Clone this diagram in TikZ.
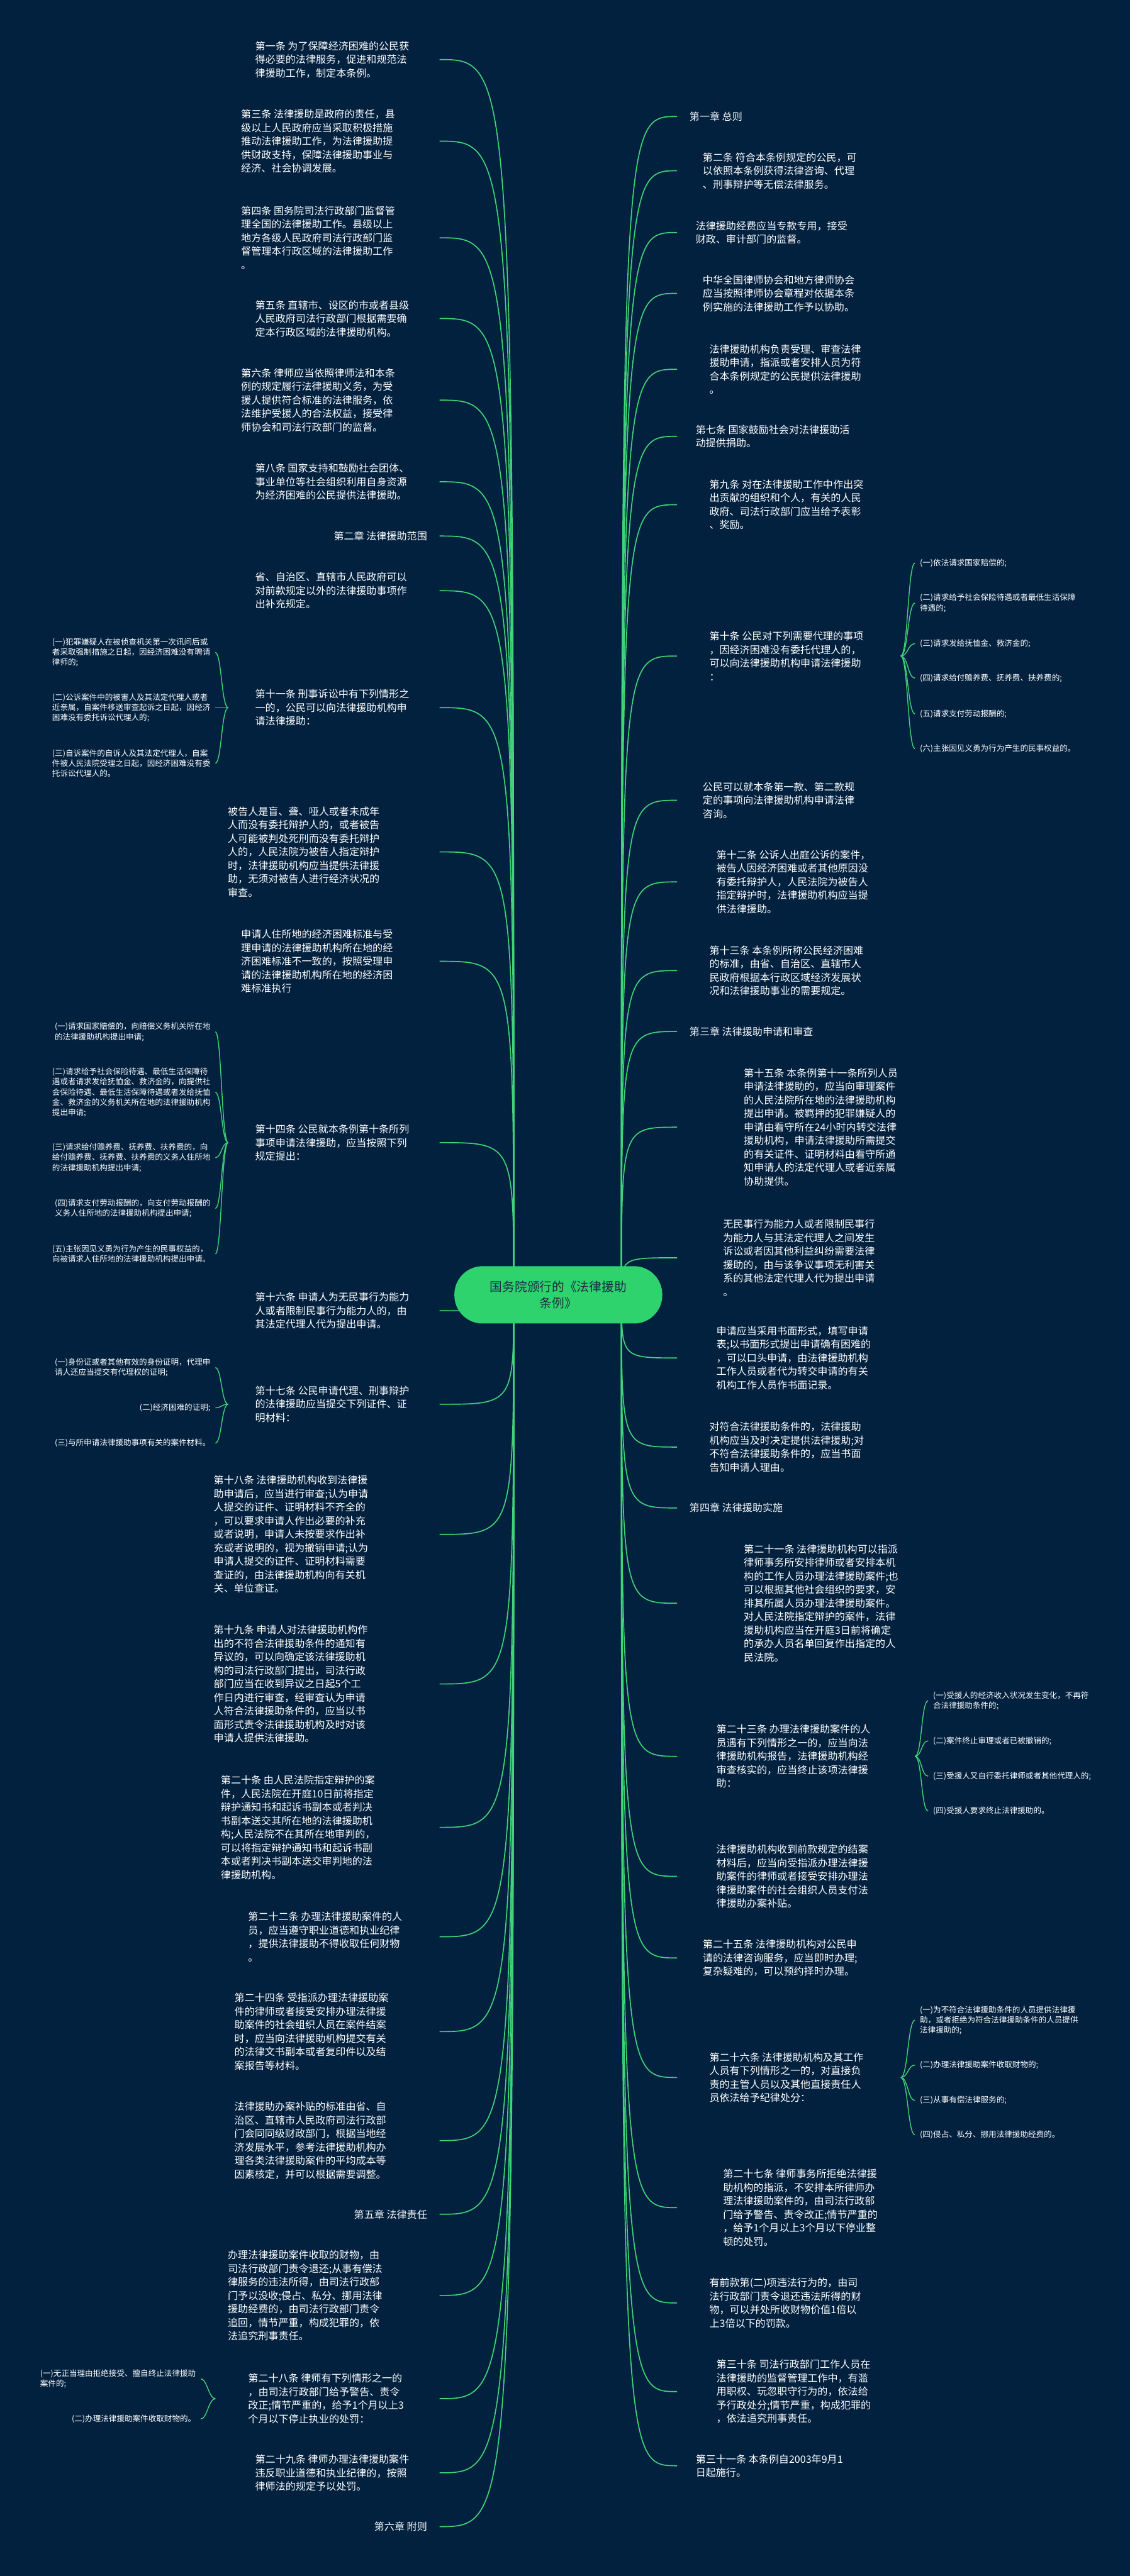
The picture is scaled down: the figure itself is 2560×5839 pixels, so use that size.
\documentclass[tikz,border=0pt]{standalone}
\usepackage{fontspec}
\setmainfont{Noto Sans CJK SC}
\definecolor{bgnavy}{RGB}{2,33,63}
\definecolor{linkgreen}{RGB}{64,211,121}
\definecolor{rootgreen}{RGB}{46,211,110}
\definecolor{roottext}{RGB}{28,44,68}
\tikzset{
  link/.style={draw=linkgreen,line width=0.6mm},
  twig/.style={draw=linkgreen,line width=0.5mm},
  txt/.style={text=white,align=left,inner sep=0pt,font=\fontsize{16.3}{21.8}\selectfont},
  item/.style={text=white,align=left,inner sep=0pt,font=\fontsize{12.75}{16.4}\selectfont},
  rootbox/.style={fill=rootgreen,text=roottext,align=center,rounded corners=16mm,
    minimum width=117.75mm,minimum height=32.5mm,font=\fontsize{20}{27}\selectfont}
}

\begin{document}
\begin{tikzpicture}[x=0.25mm,y=-0.25mm]
            \fill[bgnavy,use as bounding box] (0,0) rectangle (2560,5839);
            \coordinate (oL) at (1164,2935);
            \coordinate (oR) at (1408,2935);
            \coordinate (xL) at (996,0);
            \coordinate (xR) at (1534,0);
            % left side
            \node[txt,anchor=west] (l1) at (578,135) {第一条 为了保障经济困难的公民获\\得必要的法律服务，促进和规范法\\律援助工作，制定本条例。};
            \node[txt,anchor=west] (l3) at (546,320) {第三条 法律援助是政府的责任，县\\级以上人民政府应当采取积极措施\\推动法律援助工作，为法律援助提\\供财政支持，保障法律援助事业与\\经济、社会协调发展。};
            \node[txt,anchor=west] (l4) at (546,539) {第四条 国务院司法行政部门监督管\\理全国的法律援助工作。县级以上\\地方各级人民政府司法行政部门监\\督管理本行政区域的法律援助工作\\。};
            \node[txt,anchor=west] (l5) at (578,722) {第五条 直辖市、设区的市或者县级\\人民政府司法行政部门根据需要确\\定本行政区域的法律援助机构。};
            \node[txt,anchor=west] (l6) at (546,907) {第六条 律师应当依照律师法和本条\\例的规定履行法律援助义务，为受\\援人提供符合标准的法律服务，依\\法维护受援人的合法权益，接受律\\师协会和司法行政部门的监督。};
            \node[txt,anchor=west] (l8) at (578,1092) {第八条 国家支持和鼓励社会团体、\\事业单位等社会组织利用自身资源\\为经济困难的公民提供法律援助。};
            \node[txt,anchor=east] (l2c) at (968,1215) {第二章 法律援助范围};
            \node[txt,anchor=west] (lprov) at (578,1339) {省、自治区、直辖市人民政府可以\\对前款规定以外的法律援助事项作\\出补充规定。};
            \node[txt,anchor=west] (l11) at (578,1604) {第十一条 刑事诉讼中有下列情形之\\一的，公民可以向法律援助机构申\\请法律援助：};
            \node[txt,anchor=west] (ldef) at (516,1931) {被告人是盲、聋、哑人或者未成年\\人而没有委托辩护人的，或者被告\\人可能被判处死刑而没有委托辩护\\人的，人民法院为被告人指定辩护\\时，法律援助机构应当提供法律援\\助，无须对被告人进行经济状况的\\审查。};
            \node[txt,anchor=west] (lstd) at (546,2179) {申请人住所地的经济困难标准与受\\理申请的法律援助机构所在地的经\\济困难标准不一致的，按照受理申\\请的法律援助机构所在地的经济困\\难标准执行};
            \node[txt,anchor=west] (l14) at (578,2590) {第十四条 公民就本条例第十条所列\\事项申请法律援助，应当按照下列\\规定提出：};
            \node[txt,anchor=west] (l16) at (578,2971) {第十六条 申请人为无民事行为能力\\人或者限制民事行为能力人的，由\\其法定代理人代为提出申请。};
            \node[txt,anchor=west] (l17) at (578,3183) {第十七条 公民申请代理、刑事辩护\\的法律援助应当提交下列证件、证\\明材料：};
            \node[txt,anchor=west] (l18) at (484,3478) {第十八条 法律援助机构收到法律援\\助申请后，应当进行审查;认为申请\\人提交的证件、证明材料不齐全的\\，可以要求申请人作出必要的补充\\或者说明，申请人未按要求作出补\\充或者说明的，视为撤销申请;认为\\申请人提交的证件、证明材料需要\\查证的，由法律援助机构向有关机\\关、单位查证。};
            \node[txt,anchor=west] (l19) at (484,3817) {第十九条 申请人对法律援助机构作\\出的不符合法律援助条件的通知有\\异议的，可以向确定该法律援助机\\构的司法行政部门提出，司法行政\\部门应当在收到异议之日起5个工\\作日内进行审查，经审查认为申请\\人符合法律援助条件的，应当以书\\面形式责令法律援助机构及时对该\\申请人提供法律援助。};
            \node[txt,anchor=west] (l20) at (500,4142) {第二十条 由人民法院指定辩护的案\\件，人民法院在开庭10日前将指定\\辩护通知书和起诉书副本或者判决\\书副本送交其所在地的法律援助机\\构;人民法院不在其所在地审判的，\\可以将指定辩护通知书和起诉书副\\本或者判决书副本送交审判地的法\\律援助机构。};
            \node[txt,anchor=west] (l22) at (562,4390) {第二十二条 办理法律援助案件的人\\员，应当遵守职业道德和执业纪律\\，提供法律援助不得收取任何财物\\。};
            \node[txt,anchor=west] (l24) at (531,4605) {第二十四条 受指派办理法律援助案\\件的律师或者接受安排办理法律援\\助案件的社会组织人员在案件结案\\时，应当向法律援助机构提交有关\\的法律文书副本或者复印件以及结\\案报告等材料。};
            \node[txt,anchor=west] (lsub) at (531,4852) {法律援助办案补贴的标准由省、自\\治区、直辖市人民政府司法行政部\\门会同同级财政部门，根据当地经\\济发展水平，参考法律援助机构办\\理各类法律援助案件的平均成本等\\因素核定，并可以根据需要调整。};
            \node[txt,anchor=east] (l5c) at (968,5019) {第五章 法律责任};
            \node[txt,anchor=west] (lret) at (516,5203) {办理法律援助案件收取的财物，由\\司法行政部门责令退还;从事有偿法\\律服务的违法所得，由司法行政部\\门予以没收;侵占、私分、挪用法律\\援助经费的，由司法行政部门责令\\追回，情节严重，构成犯罪的，依\\法追究刑事责任。};
            \node[txt,anchor=west] (l28) at (562,5437) {第二十八条 律师有下列情形之一的\\，由司法行政部门给予警告、责令\\改正;情节严重的，给予1个月以上3\\个月以下停止执业的处罚：};
            \node[txt,anchor=west] (l29) at (578,5605) {第二十九条 律师办理法律援助案件\\违反职业道德和执业纪律的，按照\\律师法的规定予以处罚。};
            \node[txt,anchor=east] (l6c) at (968,5727) {第六章 附则};
            % left items
            \node[item,anchor=east] (s11a) at (477,1479) {(一)犯罪嫌疑人在被侦查机关第一次讯问后或\\者采取强制措施之日起，因经济困难没有聘请\\律师的;};
            \node[item,anchor=east] (s11b) at (477,1604) {(二)公诉案件中的被害人及其法定代理人或者\\近亲属，自案件移送审查起诉之日起，因经济\\困难没有委托诉讼代理人的;};
            \node[item,anchor=east] (s11c) at (477,1730) {(三)自诉案件的自诉人及其法定代理人，自案\\件被人民法院受理之日起，因经济困难没有委\\托诉讼代理人的。};
            \node[item,anchor=east] (s14a) at (477,2339) {(一)请求国家赔偿的，向赔偿义务机关所在地\\的法律援助机构提出申请;};
            \node[item,anchor=east] (s14b) at (477,2476) {(二)请求给予社会保险待遇、最低生活保障待\\遇或者请求发给抚恤金、救济金的，向提供社\\会保险待遇、最低生活保障待遇或者发给抚恤\\金、救济金的义务机关所在地的法律援助机构\\提出申请;};
            \node[item,anchor=east] (s14c) at (477,2624) {(三)请求给付赡养费、抚养费、扶养费的，向\\给付赡养费、抚养费、扶养费的义务人住所地\\的法律援助机构提出申请;};
            \node[item,anchor=east] (s14d) at (477,2739) {(四)请求支付劳动报酬的，向支付劳动报酬的\\义务人住所地的法律援助机构提出申请;};
            \node[item,anchor=east] (s14e) at (477,2842) {(五)主张因见义勇为行为产生的民事权益的，\\向被请求人住所地的法律援助机构提出申请。};
            \node[item,anchor=east] (s17a) at (477,3100) {(一)身份证或者其他有效的身份证明，代理申\\请人还应当提交有代理权的证明;};
            \node[item,anchor=east] (s17b) at (477,3191) {(二)经济困难的证明;};
            \node[item,anchor=east] (s17c) at (477,3271) {(三)与所申请法律援助事项有关的案件材料。};
            \node[item,anchor=east] (s28a) at (444,5392) {(一)无正当理由拒绝接受、擅自终止法律援助\\案件的;};
            \node[item,anchor=east] (s28b) at (444,5483) {(二)办理法律援助案件收取财物的。};
            % right side
            \node[txt,anchor=west] (r1c) at (1562,264) {第一章 总则};
            \node[txt,anchor=west] (r2) at (1592,387) {第二条 符合本条例规定的公民，可\\以依照本条例获得法律咨询、代理\\、刑事辩护等无偿法律服务。};
            \node[txt,anchor=west] (rfund) at (1576,527) {法律援助经费应当专款专用，接受\\财政、审计部门的监督。};
            \node[txt,anchor=west] (rbar) at (1592,665) {中华全国律师协会和地方律师协会\\应当按照律师协会章程对依据本条\\例实施的法律援助工作予以协助。};
            \node[txt,anchor=west] (rorg) at (1607,837) {法律援助机构负责受理、审查法律\\援助申请，指派或者安排人员为符\\合本条例规定的公民提供法律援助\\。};
            \node[txt,anchor=west] (r7) at (1576,989) {第七条 国家鼓励社会对法律援助活\\动提供捐助。};
            \node[txt,anchor=west] (r9) at (1607,1144) {第九条 对在法律援助工作中作出突\\出贡献的组织和个人，有关的人民\\政府、司法行政部门应当给予表彰\\、奖励。};
            \node[txt,anchor=west] (r10) at (1607,1487) {第十条 公民对下列需要代理的事项\\，因经济困难没有委托代理人的，\\可以向法律援助机构申请法律援助\\：};
            \node[txt,anchor=west] (rcon) at (1592,1814) {公民可以就本条第一款、第二款规\\定的事项向法律援助机构申请法律\\咨询。};
            \node[txt,anchor=west] (r12) at (1623,1999) {第十二条 公诉人出庭公诉的案件，\\被告人因经济困难或者其他原因没\\有委托辩护人，人民法院为被告人\\指定辩护时，法律援助机构应当提\\供法律援助。};
            \node[txt,anchor=west] (r13) at (1607,2200) {第十三条 本条例所称公民经济困难\\的标准，由省、自治区、直辖市人\\民政府根据本行政区域经济发展状\\况和法律援助事业的需要规定。};
            \node[txt,anchor=west] (r3c) at (1562,2338) {第三章 法律援助申请和审查};
            \node[txt,anchor=west] (r15) at (1685,2555) {第十五条 本条例第十一条所列人员\\申请法律援助的，应当向审理案件\\的人民法院所在地的法律援助机构\\提出申请。被羁押的犯罪嫌疑人的\\申请由看守所在24小时内转交法律\\援助机构，申请法律援助所需提交\\的有关证件、证明材料由看守所通\\知申请人的法定代理人或者近亲属\\协助提供。};
            \node[txt,anchor=west] (rinc) at (1638,2851) {无民事行为能力人或者限制民事行\\为能力人与其法定代理人之间发生\\诉讼或者因其他利益纠纷需要法律\\援助的，由与该争议事项无利害关\\系的其他法定代理人代为提出申请\\。};
            \node[txt,anchor=west] (rform) at (1623,3078) {申请应当采用书面形式，填写申请\\表;以书面形式提出申请确有困难的\\，可以口头申请，由法律援助机构\\工作人员或者代为转交申请的有关\\机构工作人员作书面记录。};
            \node[txt,anchor=west] (rdec) at (1607,3280) {对符合法律援助条件的，法律援助\\机构应当及时决定提供法律援助;对\\不符合法律援助条件的，应当书面\\告知申请人理由。};
            \node[txt,anchor=west] (r4c) at (1562,3418) {第四章 法律援助实施};
            \node[txt,anchor=west] (r21) at (1685,3634) {第二十一条 法律援助机构可以指派\\律师事务所安排律师或者安排本机\\构的工作人员办理法律援助案件;也\\可以根据其他社会组织的要求，安\\排其所属人员办理法律援助案件。\\对人民法院指定辩护的案件，法律\\援助机构应当在开庭3日前将确定\\的承办人员名单回复作出指定的人\\民法院。};
            \node[txt,anchor=west] (r23) at (1623,3981) {第二十三条 办理法律援助案件的人\\员遇有下列情形之一的，应当向法\\律援助机构报告，法律援助机构经\\审查核实的，应当终止该项法律援\\助：};
            \node[txt,anchor=west] (rpay) at (1623,4253) {法律援助机构收到前款规定的结案\\材料后，应当向受指派办理法律援\\助案件的律师或者接受安排办理法\\律援助案件的社会组织人员支付法\\律援助办案补贴。};
            \node[txt,anchor=west] (r25) at (1592,4438) {第二十五条 法律援助机构对公民申\\请的法律咨询服务，应当即时办理;\\复杂疑难的，可以预约择时办理。};
            \node[txt,anchor=west] (r26) at (1607,4709) {第二十六条 法律援助机构及其工作\\人员有下列情形之一的，对直接负\\责的主管人员以及其他直接责任人\\员依法给予纪律处分：};
            \node[txt,anchor=west] (r27) at (1638,5004) {第二十七条 律师事务所拒绝法律援\\助机构的指派，不安排本所律师办\\理法律援助案件的，由司法行政部\\门给予警告、责令改正;情节严重的\\，给予1个月以上3个月以下停业整\\顿的处罚。};
            \node[txt,anchor=west] (rill) at (1607,5220) {有前款第(二)项违法行为的，由司\\法行政部门责令退还违法所得的财\\物，可以并处所收财物价值1倍以\\上3倍以下的罚款。};
            \node[txt,anchor=west] (r30) at (1623,5421) {第三十条 司法行政部门工作人员在\\法律援助的监督管理工作中，有滥\\用职权、玩忽职守行为的，依法给\\予行政处分;情节严重，构成犯罪的\\，依法追究刑事责任。};
            \node[txt,anchor=west] (r31) at (1576,5589) {第三十一条 本条例自2003年9月1\\日起施行。};
            % right items
            \node[item,anchor=west] (t10a) at (2084,1276) {(一)依法请求国家赔偿的;};
            \node[item,anchor=west] (t10b) at (2084,1367) {(二)请求给予社会保险待遇或者最低生活保障\\待遇的;};
            \node[item,anchor=west] (t10c) at (2084,1459) {(三)请求发给抚恤金、救济金的;};
            \node[item,anchor=west] (t10d) at (2084,1537) {(四)请求给付赡养费、抚养费、扶养费的;};
            \node[item,anchor=west] (t10e) at (2084,1618) {(五)请求支付劳动报酬的;};
            \node[item,anchor=west] (t10f) at (2084,1697) {(六)主张因见义勇为行为产生的民事权益的。};
            \node[item,anchor=west] (t23a) at (2114,3855) {(一)受援人的经济收入状况发生变化，不再符\\合法律援助条件的;};
            \node[item,anchor=west] (t23b) at (2114,3946) {(二)案件终止审理或者已被撤销的;};
            \node[item,anchor=west] (t23c) at (2114,4026) {(三)受援人又自行委托律师或者其他代理人的;};
            \node[item,anchor=west] (t23d) at (2114,4105) {(四)受援人要求终止法律援助的。};
            \node[item,anchor=west] (t26a) at (2084,4579) {(一)为不符合法律援助条件的人员提供法律援\\助，或者拒绝为符合法律援助条件的人员提供\\法律援助的;};
            \node[item,anchor=west] (t26b) at (2084,4681) {(二)办理法律援助案件收取财物的;};
            \node[item,anchor=west] (t26c) at (2084,4761) {(三)从事有偿法律服务的;};
            \node[item,anchor=west] (t26d) at (2084,4839) {(四)侵占、私分、挪用法律援助经费的。};
            % branches
            \foreach \n in {l1,l3,l4,l5,l6,l8,l2c,lprov,l11,ldef,lstd,l14,l16,l17,l18,l19,l20,l22,l24,lsub,l5c,lret,l28,l29,l6c}
                \draw[link] (oL) .. controls (oL |- \n.east) and (oL |- \n.east) .. (\n.east -| xL);
            \foreach \n in {r1c,r2,rfund,rbar,rorg,r7,r9,r10,rcon,r12,r13,r3c,r15,rinc,rform,rdec,r4c,r21,r23,rpay,r25,r26,r27,rill,r30,r31}
                \draw[link] (oR) .. controls (oR |- \n.west) and (oR |- \n.west) .. (\n.west -| xR);
            \coordinate (h11) at (517,1604);
            \coordinate (h14) at (517,2590);
            \coordinate (h17) at (517,3183);
            \coordinate (h28) at (488,5437);
            \coordinate (h10) at (2041,1487);
            \coordinate (h23) at (2073,3981);
            \coordinate (h26) at (2041,4709);
            \foreach \h/\i in {h11/s11a,h11/s11b,h11/s11c,h14/s14a,h14/s14b,h14/s14c,h14/s14d,h14/s14e,h17/s17a,h17/s17b,h17/s17c,h28/s28a,h28/s28b}
                \draw[twig] (\h) .. controls ([xshift=-3.75mm]\h) and ([xshift=6.25mm]\i.east) .. ([xshift=2.75mm]\i.east);
            \foreach \h/\i in {h10/t10a,h10/t10b,h10/t10c,h10/t10d,h10/t10e,h10/t10f,h23/t23a,h23/t23b,h23/t23c,h23/t23d,h26/t26a,h26/t26b,h26/t26c,h26/t26d}
                \draw[twig] (\h) .. controls ([xshift=4mm]\h) and ([xshift=-6.75mm]\i.west) .. ([xshift=-2.75mm]\i.west);
            \node[rootbox] (root) at (1265,2935) {国务院颁行的《法律援助\\条例》};
        \end{tikzpicture}
\end{document}
